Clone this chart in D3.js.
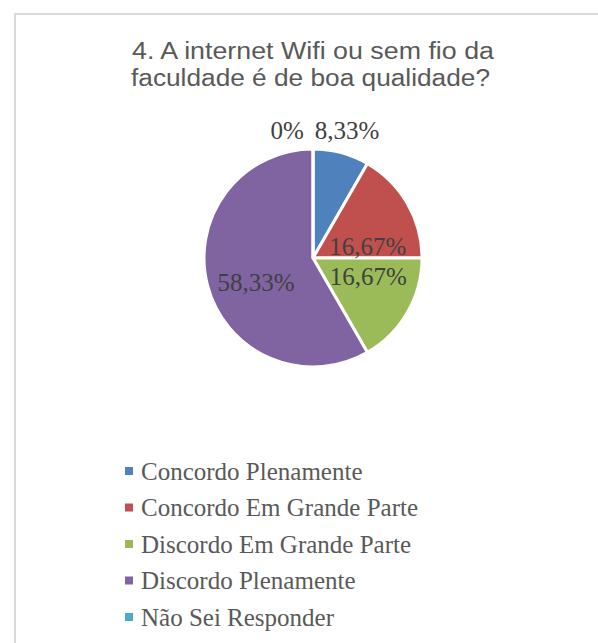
<!DOCTYPE html>
<html>
<head>
<meta charset="utf-8">
<script src="https://cdn.jsdelivr.net/npm/d3@7"></script>
<style>
  html, body { margin: 0; padding: 0; background: #fff; }
  svg { display: block; }
</style>
</head>
<body>
<div id="chart"></div>
<script>
const width = 598;
const height = 643;

// dados do gráfico
const categories = [
    "Concordo Plenamente",
    "Concordo Em Grande Parte",
    "Discordo Em Grande Parte",
    "Discordo Plenamente",
    "Não Sei Responder"
];
const values = [8.33, 16.67, 16.67, 58.33, 0];
const valueLabels = ["8,33%", "16,67%", "16,67%", "58,33%", "0%"];
const colors = ["#4f81bd", "#c0504d", "#9bbb59", "#8064a2", "#4bacc6"];
const titleLines = ["4. A internet Wifi ou sem fio da", "faculdade é de boa qualidade?"];

const svg = d3.select("#chart")
    .append("svg")
    .attr("width", width)
    .attr("height", height);

// borda da área do gráfico
svg.append("rect")
    .attr("x", 15)
    .attr("y", 14)
    .attr("width", 700)
    .attr("height", 700)
    .attr("fill", "none")
    .attr("stroke", "#d9d9d9")
    .attr("stroke-width", 2);

// título (letras um pouco alargadas, como no original)
const titleWidths = [362, 359];
svg.append("text")
    .attr("text-anchor", "middle")
    .attr("font-family", "'Liberation Sans', Arial, sans-serif")
    .attr("font-size", 23)
    .attr("fill", "#595959")
    .selectAll("tspan")
    .data(titleLines)
    .enter()
    .append("tspan")
    .attr("x", (d, i) => i === 0 ? 313 : 310.5)
    .attr("y", (d, i) => 58.5 + i * 27.5)
    .attr("textLength", (d, i) => titleWidths[i])
    .attr("lengthAdjust", "spacingAndGlyphs")
    .text(d => d);

// pizza
const cx = 313, cy = 258, radius = 109;

const pie = d3.pie().sort(null).value(d => d);
const arcs = pie(values);
const arcGen = d3.arc().innerRadius(0).outerRadius(radius);

const g = svg.append("g").attr("transform", `translate(${cx},${cy})`);

g.selectAll("path")
    .data(arcs)
    .enter()
    .append("path")
    .attr("d", arcGen)
    .attr("fill", (d, i) => colors[i])
    .attr("stroke", "#fff")
    .attr("stroke-width", 3)
    .attr("stroke-linejoin", "round");

// posição dos rótulos: fração do ângulo dentro da fatia e raio (estilo "melhor ajuste")
const labelPos = [
    { f: 0.5, r: 132, da: 0 },
    { f: 0.8, r: 56, da: 0 },
    { f: 0.3, r: 58, da: 0 },
    { f: 0.46, r: 62, da: 0 },
    { f: 0.5, r: 130, da: -0.2 }
];

g.selectAll("text.lbl")
    .data(arcs)
    .enter()
    .append("text")
    .attr("class", "lbl")
    .attr("text-anchor", "middle")
    .attr("dy", "0.35em")
    .attr("font-family", "'Liberation Serif', Cambria, serif")
    .attr("font-size", 25)
    .attr("fill", "#404040")
    .attr("transform", (d, i) => {
        const p = labelPos[i];
        const a = d.startAngle + (d.endAngle - d.startAngle) * p.f + p.da;
        return `translate(${Math.sin(a) * p.r},${-Math.cos(a) * p.r})`;
    })
    .text((d, i) => valueLabels[i]);

// legenda
const legendY = d3.scalePoint()
    .domain(categories)
    .range([471, 617]);

const legend = svg.append("g")
    .selectAll("g")
    .data(categories)
    .enter()
    .append("g")
    .attr("transform", d => `translate(125,${legendY(d)})`);

legend.append("rect")
    .attr("x", 0)
    .attr("y", -4)
    .attr("width", 8)
    .attr("height", 8)
    .attr("fill", (d, i) => colors[i]);

legend.append("text")
    .attr("x", 16)
    .attr("dy", "0.35em")
    .attr("font-family", "'Liberation Serif', Cambria, serif")
    .attr("font-size", 25)
    .attr("fill", "#595959")
    .text(d => d);
</script>
</body>
</html>
